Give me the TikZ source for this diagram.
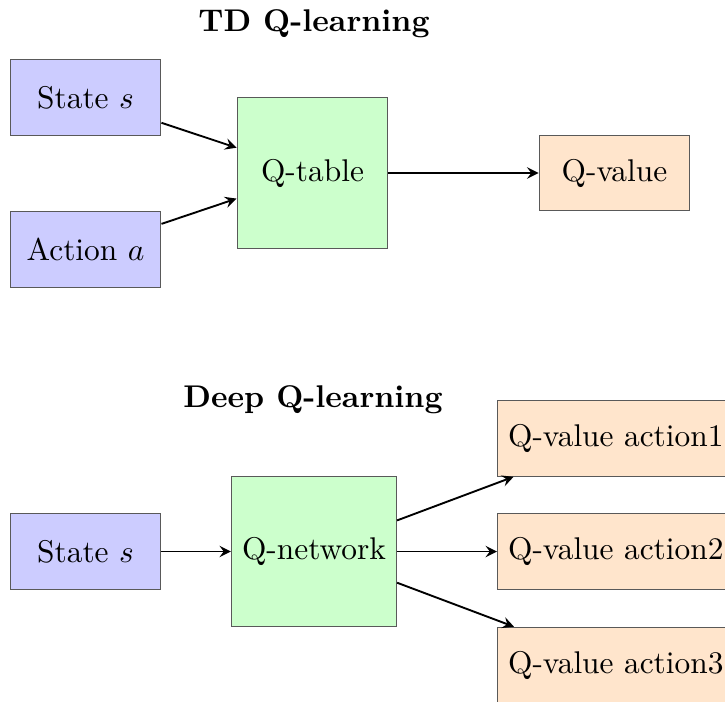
\documentclass[tikz,border=0pt]{standalone}
\usetikzlibrary{arrows}
\begin{document}
\begin{tikzpicture}[x=0.3185pt,y=-0.3185pt,
  box/.style={draw=black!65,minimum width=48pt,inner sep=3.33pt},
  inbox/.style={box,fill=blue!20,minimum height=24pt},
  corebox/.style={box,fill=green!20,minimum height=48pt},
  outbox/.style={box,fill=orange!20,minimum height=24pt},
  flow/.style={-stealth,semithick},
  ttl/.style={font=\bfseries}]
\useasboundingbox (0,0) rectangle (725,702);

% TD Q-learning
\node[ttl] (t1) at (314,24) {TD Q-learning};
\node[inbox] (s1) at (85.5,97.5) {State $s$};
\node[inbox] (a1) at (85.5,249.5) {Action $a$};
\node[corebox] (qt) at (312.5,173) {Q-table};
\node[outbox] (qv) at (614.5,173) {Q-value};
\draw[flow] (s1) -- (qt);
\draw[flow] (a1) -- (qt);
\draw[flow] (qt) -- (qv);

% Deep Q-learning
\node[ttl] (t2) at (313,400) {Deep Q-learning};
\node[inbox] (s2) at (85.5,551.5) {State $s$};
\node[corebox] (qn) at (314,551.5) {Q-network};
\node[outbox,anchor=west] (o1) at (497,438.5) {Q-value action1};
\node[outbox,anchor=west] (o2) at (497,551.5) {Q-value action2};
\node[outbox,anchor=west] (o3) at (497,665) {Q-value action3};
\draw[flow] (s2) -- (qn);
\draw[flow] (qn) -- (o1);
\draw[flow] (qn) -- (o2);
\draw[flow] (qn) -- (o3);
\end{tikzpicture}
\end{document}
